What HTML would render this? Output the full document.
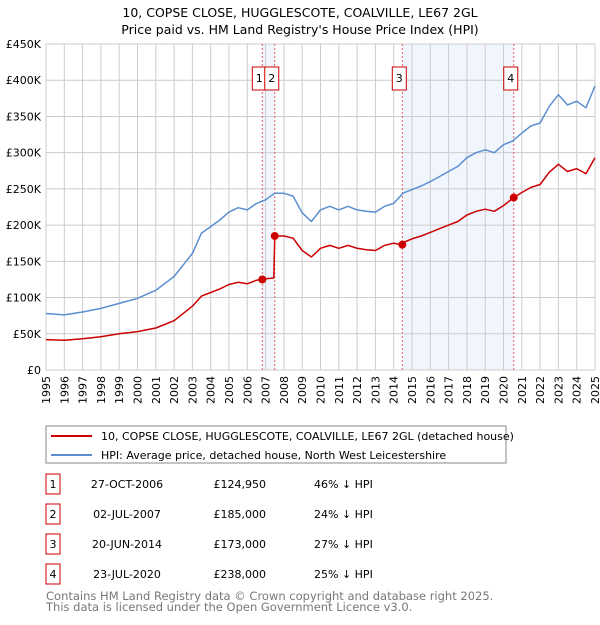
<!DOCTYPE html>
<html><head><meta charset="utf-8"><style>
body{margin:0;background:#fff;font-family:"Liberation Sans","DejaVu Sans",sans-serif;}
svg text{font-family:"DejaVu Sans","Liberation Sans",sans-serif;}
</style></head><body>
<svg id="chart" width="600" height="620" viewBox="0 0 600 620">
<text x="300" y="17" text-anchor="middle" font-size="12.5">10, COPSE CLOSE, HUGGLESCOTE, COALVILLE, LE67 2GL</text>
<text x="300" y="34" text-anchor="middle" font-size="12.5">Price paid vs. HM Land Registry's House Price Index (HPI)</text>
<g id="plot"></g>
<g>
<rect x="46" y="426" width="460" height="37" fill="#fff" stroke="#888"/>
<line x1="51" y1="436" x2="92" y2="436" stroke="#cc0000" stroke-width="2"/>
<text x="101" y="440" font-size="11">10, COPSE CLOSE, HUGGLESCOTE, COALVILLE, LE67 2GL (detached house)</text>
<line x1="51" y1="455" x2="92" y2="455" stroke="#5b8fd0" stroke-width="2"/>
<text x="101" y="459" font-size="11">HPI: Average price, detached house, North West Leicestershire</text>
</g>
<g id="table" font-size="11"></g>
<text x="46" y="600" font-size="11.5" fill="#777">Contains HM Land Registry data © Crown copyright and database right 2025.</text>
<text x="46" y="611" font-size="11.5" fill="#777">This data is licensed under the Open Government Licence v3.0.</text>
</svg>
<script>
const hpiYears=[1995,1996,1997,1998,1999,2000,2001,2002,2003,2003.5,2004,2004.5,2005,2005.5,2006,2006.5,2007,2007.5,2008,2008.5,2009,2009.5,2010,2010.5,2011,2011.5,2012,2012.5,2013,2013.5,2014,2014.5,2015,2015.5,2016,2016.5,2017,2017.5,2018,2018.5,2019,2019.5,2020,2020.5,2021,2021.5,2022,2022.5,2023,2023.5,2024,2024.5,2025];
const hpiValues=[78,76,80,85,92,99,110,129,161,189,198,207,218,224,221,230,235,244,244,240,217,205,221,226,221,226,221,219,218,226,230,244,249,254,260,267,274,281,293,300,304,300,311,316,327,337,341,364,380,366,371,362,392];
const priceYears=[1995,1996,1997,1998,1999,2000,2001,2002,2003,2003.5,2004,2004.5,2005,2005.5,2006,2006.5,2006.82,2007,2007.45,2007.5,2008,2008.5,2009,2009.5,2010,2010.5,2011,2011.5,2012,2012.5,2013,2013.5,2014,2014.47,2014.5,2015,2015.5,2016,2016.5,2017,2017.5,2018,2018.5,2019,2019.5,2020,2020.56,2021,2021.5,2022,2022.5,2023,2023.5,2024,2024.5,2025];
const priceValues=[42,41,43,46,50,53,58,68,88,102,107,112,118,121,119,124,125,126,127,185,185,182,165,156,168,172,168,172,168,166,165,172,175,173,176,181,185,190,195,200,205,214,219,222,219,227,238,245,252,256,273,284,274,278,271,293];
const saleLabels=["1","2","3","4"];
const saleYears=[2006.82,2007.5,2014.47,2020.56];
const saleValues=[124.95,185,173,238];
const saleDates=["27-OCT-2006","02-JUL-2007","20-JUN-2014","23-JUL-2020"];
const salePrices=["£124,950","£185,000","£173,000","£238,000"];
const saleDiffs=["46% ↓ HPI","24% ↓ HPI","27% ↓ HPI","25% ↓ HPI"];
const yTicks=[0,50,100,150,200,250,300,350,400,450];
const yTickLabels=["£0","£50K","£100K","£150K","£200K","£250K","£300K","£350K","£400K","£450K"];
const xTicks=[1995,1996,1997,1998,1999,2000,2001,2002,2003,2004,2005,2006,2007,2008,2009,2010,2011,2012,2013,2014,2015,2016,2017,2018,2019,2020,2021,2022,2023,2024,2025];

const NS="http://www.w3.org/2000/svg";
const X0=46,X1=595,Y0=370,Y1=44;
const xs=v=>X0+(v-1995)/30*(X1-X0);
const ys=v=>Y0-v/450*(Y0-Y1);
function mk(tag,attrs,parent){const e=document.createElementNS(NS,tag);for(const k in attrs)e.setAttribute(k,attrs[k]);parent.appendChild(e);return e;}
const plot=document.getElementById('plot');
[[0,1],[2,3]].forEach((p,i)=>{
 const r=mk('rect',{x:xs(saleYears[p[0]]),y:Y1,width:xs(saleYears[p[1]])-xs(saleYears[p[0]]),height:Y0-Y1,fill:'#eef3fc',opacity:0.8},plot);
 
 
});
xTicks.forEach(t=>{
 const l=mk('line',{x1:xs(t),x2:xs(t),y1:Y1,y2:Y0,stroke:'#cccccc','stroke-width':1},plot);
 
 
 const tx=mk('text',{x:0,y:0,'text-anchor':'end','font-size':11,transform:'translate('+(xs(t)+4).toFixed(1)+',376) rotate(-90)'},plot);
 tx.textContent=t;
 
 
});
yTicks.forEach((t,i)=>{
 const l=mk('line',{x1:X0,x2:X1,y1:ys(t),y2:ys(t),stroke:'#cccccc','stroke-width':1},plot);
 
 
 const tx=mk('text',{x:41,y:ys(t)+4,'text-anchor':'end','font-size':11},plot);
 tx.textContent=yTickLabels[i];
 
 
});
saleYears.forEach((y,i)=>{
 const l=mk('line',{x1:xs(y),x2:xs(y),y1:Y1,y2:Y0,stroke:'#e06060','stroke-width':1,'stroke-dasharray':'2,2'},plot);
 
 
});
function path(xa,va,col,name){
 const d=xa.map((x,i)=>(i?'L':'M')+xs(x).toFixed(1)+','+ys(va[i]).toFixed(1)).join('');
 const p=mk('path',{d:d,fill:'none',stroke:col,'stroke-width':1.5,'stroke-linejoin':'round'},plot);
 
 
}
path(hpiYears,hpiValues,'#5b8fd0','hpi-line');
path(priceYears,priceValues,'#cc0000','price-paid-line');
saleYears.forEach((y,i)=>{
 const c=mk('circle',{cx:xs(y),cy:ys(saleValues[i]),r:4,fill:'#cc0000'},plot);
 
 
 const bx=xs(y)-10;
 const r=mk('rect',{x:bx,y:67,width:14,height:23,fill:'#fff',stroke:'#cc0000'},plot);
 
 
 const t=mk('text',{x:bx+7,y:82,'text-anchor':'middle','font-size':11},plot);
 t.textContent=saleLabels[i];
 
 
});
const tb=document.getElementById('table');
saleLabels.forEach((s,i)=>{
 const y=474+i*30;
 const r=mk('rect',{x:46,y:y,width:14,height:20,fill:'#fff',stroke:'#cc0000'},tb);
 
 
 const cells=[[53,s,'middle'],[127,saleDates[i],'middle'],[266,salePrices[i],'end'],[314,saleDiffs[i],'start']];
 cells.forEach((c,j)=>{
  const t=mk('text',{x:c[0],y:y+14,'text-anchor':c[2]},tb);
  t.textContent=c[1];
  
  
 });
});
</script>
</body></html>
